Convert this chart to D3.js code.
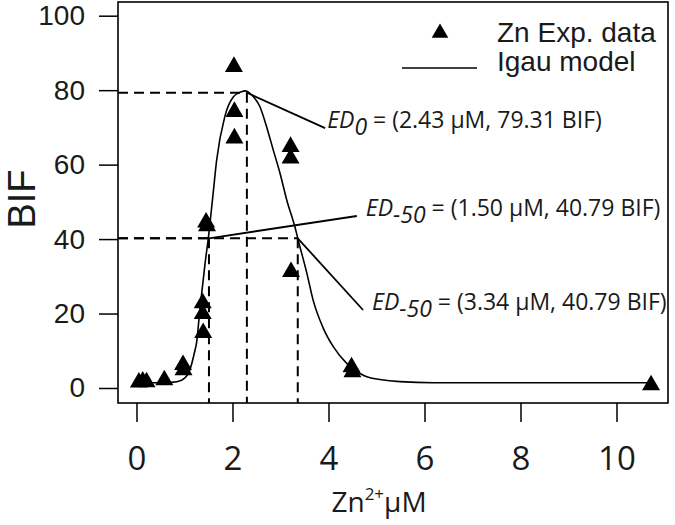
<!DOCTYPE html>
<html>
<head>
<meta charset="utf-8">
<script src="https://cdn.jsdelivr.net/npm/d3@7"></script>
<style>
  body { margin: 0; background: #fff; }
  svg { display: block; }
</style>
</head>
<body>
<svg id="canvas" width="675" height="525"></svg>
<script>
// ---- data ----
var expX = [0.05, 0.13, 0.21, 0.58, 0.97, 0.98, 1.38, 1.38, 1.39, 1.45, 1.47, 2.03, 2.04, 2.04, 3.21, 3.21, 3.22, 4.48, 4.50, 10.72];
var expY = [1.5, 1.8, 1.6, 2.1, 6.2, 4.8, 22.8, 19.9, 14.8, 44.5, 43.5, 86.3, 74.2, 67.1, 64.8, 61.7, 31.2, 5.6, 4.3, 0.8];

var modelX = [0.0, 0.39, 0.73, 0.94, 1.08, 1.11, 1.22, 1.25, 1.32, 1.43, 1.50, 1.59, 1.67, 1.84, 2.02, 2.19, 2.26, 2.40, 2.57, 2.71, 2.85, 2.99, 3.13, 3.30, 3.37, 3.55, 3.68, 3.89, 4.10, 4.38, 4.66, 4.80, 5.07, 5.49, 6.18, 7.57, 10.72];
var modelY = [1.4, 1.4, 1.5, 2.1, 3.9, 4.8, 10.2, 12.0, 21.0, 33.6, 40.6, 51.4, 61.2, 72.9, 78.2, 79.6, 79.8, 78.7, 75.6, 70.2, 63.9, 57.7, 50.5, 43.3, 39.7, 30.8, 23.6, 16.1, 11.1, 6.6, 3.9, 3.0, 2.3, 1.7, 1.4, 1.4, 1.4];

// ED points (where they sit in the drawing) and their labels
var edX = [2.30, 1.51, 3.36];
var edY = [79.31, 40.2, 40.2];
var edSub = ['0', '-50', '-50'];
var edText = [' = (2.43 \u03BCM, 79.31 BIF)', ' = (1.50 \u03BCM, 40.79 BIF)', ' = (3.34 \u03BCM, 40.79 BIF)'];
// end of each leader line, in data units
var leadX = [3.93, 4.59, 4.72];
var leadY = [69.8, 46.2, 20.95];

var xTicks = [0, 2, 4, 6, 8, 10];
var yTicks = [0, 20, 40, 60, 80, 100];
var legendLabels = ['Zn Exp. data', 'Igau model'];

// ---- layout ----
var box = { left: 118, right: 668, top: 2, bottom: 403 };
var svg = d3.select('#canvas');

var x = d3.scaleLinear().domain([-0.385, 11.073]).range([box.left, box.right]);
var y = d3.scaleLinear().domain([-4.03, 103.68]).range([box.bottom, box.top]);

var sansY = 'Liberation Sans, Arial, sans-serif';
var sansX = 'Open Sans, Noto Sans, sans-serif';

// ---- axes ----
var yAxis = d3.axisLeft(y).tickValues(yTicks).tickSize(19).tickPadding(14);
var gy = svg.append('g').attr('transform', 'translate(' + box.left + ',0)').call(yAxis);
gy.select('.domain').remove();
gy.selectAll('.tick line').attr('stroke', '#000').attr('stroke-width', 1.5);
gy.selectAll('.tick text').attr('font-family', sansY).attr('font-size', 28).attr('fill', '#1a1a1a');

var xAxis = d3.axisBottom(x).tickValues(xTicks).tickSize(19).tickPadding(25);
var gx = svg.append('g').attr('transform', 'translate(0,' + box.bottom + ')').call(xAxis);
gx.select('.domain').remove();
gx.selectAll('.tick line').attr('stroke', '#000').attr('stroke-width', 1.5);
gx.selectAll('.tick text').attr('font-family', sansX).attr('font-size', 33).attr('fill', '#1a1a1a');

svg.append('text')
  .attr('transform', 'translate(34.5,199) rotate(-90)')
  .attr('text-anchor', 'middle')
  .attr('font-family', sansY).attr('font-size', 38).attr('fill', '#1a1a1a')
  .text('BIF');

var xt = svg.append('text')
  .attr('x', 379).attr('y', 512)
  .attr('text-anchor', 'middle')
  .attr('font-family', sansX).attr('font-size', 28).attr('fill', '#1a1a1a');
xt.append('tspan').text('Zn');
xt.append('tspan').attr('font-size', 17).attr('dy', -12).text('2+');
xt.append('tspan').attr('dy', 12).text('\u03BCM');

// ---- dashed reference lines ----
var refs = svg.append('g').attr('stroke', '#000').attr('stroke-width', 2).attr('stroke-dasharray', '10,6').attr('fill', 'none');
edX.forEach(function(d, i){
  refs.append('line').attr('x1', box.left).attr('y1', y(edY[i])).attr('x2', x(d)).attr('y2', y(edY[i]));
  refs.append('line').attr('x1', x(d)).attr('y1', y(edY[i])).attr('x2', x(d)).attr('y2', box.bottom);
});

// ---- model curve ----
var line = d3.line().x(function(d){ return x(d[0]); }).y(function(d){ return y(d[1]); }).curve(d3.curveMonotoneX);
svg.append('path')
  .datum(modelX.map(function(d, i){ return [d, modelY[i]]; }))
  .attr('d', line)
  .attr('fill', 'none').attr('stroke', '#000').attr('stroke-width', 1.6);

// ---- leader lines + labels ----
edX.forEach(function(d, i){
  svg.append('line')
    .attr('x1', x(d)).attr('y1', y(edY[i])).attr('x2', x(leadX[i])).attr('y2', y(leadY[i]))
    .attr('stroke', '#000').attr('stroke-width', 1.8);
  var t = svg.append('text')
    .attr('x', x(leadX[i]) + (i == 0 ? 2 : 9)).attr('y', y(leadY[i]))
    .attr('font-family', sansX).attr('font-size', 23).attr('fill', '#1a1a1a');
  t.append('tspan').attr('font-style', 'italic').text('ED');
  t.append('tspan').attr('font-style', 'italic').attr('dy', 7).text(edSub[i]);
  t.append('tspan').attr('dy', -7).text(edText[i]);
});

// ---- experimental points ----
var tri = d3.symbol().type(d3.symbolTriangle).size(140);
svg.append('g').selectAll('path')
  .data(expX.map(function(d, i){ return [d, expY[i]]; }))
  .join('path')
  .attr('d', tri)
  .attr('transform', function(d){ return 'translate(' + x(d[0]) + ',' + y(d[1]) + ')'; })
  .attr('fill', '#000');

// ---- legend ----
svg.append('path').attr('d', d3.symbol().type(d3.symbolTriangle).size(120))
  .attr('transform', 'translate(440,33)').attr('fill', '#000');
svg.append('line').attr('x1', 402).attr('x2', 477).attr('y1', 68).attr('y2', 68)
  .attr('stroke', '#000').attr('stroke-width', 1.6);
legendLabels.forEach(function(d, i){
  svg.append('text').attr('x', 497).attr('y', 42 + i*29)
    .attr('font-family', sansY).attr('font-size', 28).attr('fill', '#1a1a1a')
    .text(d);
});

// ---- box ----
svg.append('rect')
  .attr('x', box.left).attr('y', box.top)
  .attr('width', box.right - box.left).attr('height', box.bottom - box.top)
  .attr('fill', 'none').attr('stroke', '#000').attr('stroke-width', 1.6);
</script>
</body>
</html>
